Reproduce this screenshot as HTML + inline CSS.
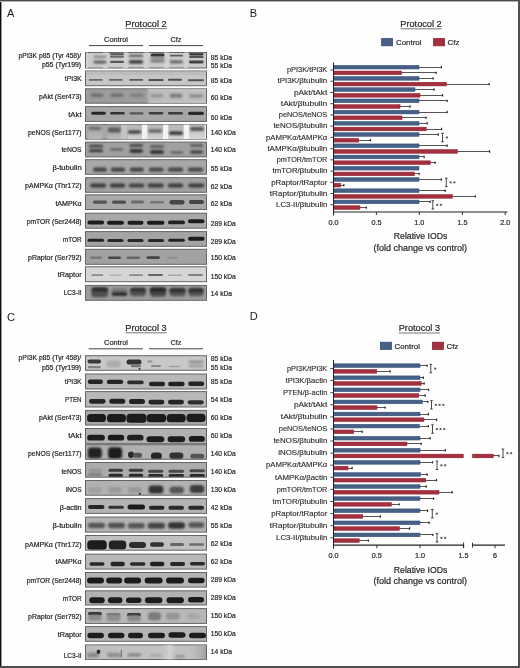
<!DOCTYPE html>
<html><head><meta charset="utf-8"><title>Figure</title>
<style>html,body{margin:0;padding:0;background:#fff;}body{width:520px;height:668px;overflow:hidden;}svg{display:block;will-change:transform;}text{font-family:"Liberation Sans",sans-serif;stroke:#262626;stroke-width:0.2px;}text.l{stroke-width:0.1px;}</style>
</head><body>
<svg width="520" height="668" viewBox="0 0 520 668" font-family="Liberation Sans">
<defs>
<filter id="f0" x="-50%" y="-100%" width="200%" height="300%"><feGaussianBlur stdDeviation="0.3"/></filter>
<filter id="f1" x="-50%" y="-100%" width="200%" height="300%"><feGaussianBlur stdDeviation="0.75"/></filter>
<filter id="f2" x="-50%" y="-100%" width="200%" height="300%"><feGaussianBlur stdDeviation="1.1"/></filter>
<filter id="f3" x="-50%" y="-100%" width="200%" height="300%"><feGaussianBlur stdDeviation="1.5"/></filter>
<filter id="f4" x="-50%" y="-100%" width="200%" height="300%"><feGaussianBlur stdDeviation="2.2"/></filter>
<linearGradient id="lc3g" x1="0" x2="0" y1="0" y2="1"><stop offset="0" stop-color="#959595" stop-opacity="0.7"/><stop offset="0.5" stop-color="#a0a0a0" stop-opacity="0"/><stop offset="1" stop-color="#c0c0c0" stop-opacity="0.8"/></linearGradient>
<linearGradient id="pg1" x1="0" x2="0" y1="0" y2="1"><stop offset="0" stop-color="#a4a4a4"/><stop offset="1" stop-color="#b8b8b8"/></linearGradient>
<linearGradient id="pg2" x1="0" x2="0" y1="0" y2="1"><stop offset="0" stop-color="#b4b4b4"/><stop offset="1" stop-color="#d2d2d2"/></linearGradient>
<linearGradient id="pg3" x1="0" x2="0" y1="0" y2="1"><stop offset="0" stop-color="#bcbcbc"/><stop offset="1" stop-color="#d8d8d8"/></linearGradient>
<linearGradient id="lc3c" x1="0" x2="1" y1="0" y2="0"><stop offset="0" stop-color="#b8b8b8" stop-opacity="0.5"/><stop offset="0.62" stop-color="#c8c8c8" stop-opacity="0"/><stop offset="0.7" stop-color="#d4d4d4" stop-opacity="0.9"/><stop offset="0.76" stop-color="#c8c8c8" stop-opacity="0"/><stop offset="0.9" stop-color="#b0b0b0" stop-opacity="0.3"/><stop offset="1" stop-color="#a0a0a0" stop-opacity="1"/></linearGradient>
<linearGradient id="pakt" x1="0" x2="1" y1="0" y2="0"><stop offset="0" stop-color="#a8a8a8"/><stop offset="0.06" stop-color="#bcbcbc"/><stop offset="1" stop-color="#c2c2c2"/></linearGradient>
</defs>
<rect width="520" height="668" fill="#fefefe"/>
<text x="7.00" y="17.00" font-size="11" text-anchor="start" fill="#1a1a1a" style="stroke:none">A</text>
<text x="146.00" y="26.60" font-size="9.2" text-anchor="middle" fill="#262626" >Protocol 2</text>
<line x1="125.2" y1="28.6" x2="166.8" y2="28.6" stroke="#555" stroke-width="0.8"/>
<text x="116.00" y="41.80" font-size="7.4" text-anchor="middle" fill="#262626" >Control</text>
<text x="176.00" y="41.80" font-size="7.4" text-anchor="middle" fill="#262626" >Cfz</text>
<line x1="89" y1="45.6" x2="143" y2="45.6" stroke="#444" stroke-width="1"/>
<line x1="149" y1="45.6" x2="203" y2="45.6" stroke="#444" stroke-width="1"/>
<text x="81.20" y="58.30" font-size="6.8" text-anchor="end" fill="#262626" class="b" textLength="62.60" lengthAdjust="spacingAndGlyphs">pPI3K p85 (Tyr 458)/</text>
<text x="81.20" y="66.80" font-size="6.8" text-anchor="end" fill="#262626" class="b" textLength="39.30" lengthAdjust="spacingAndGlyphs">p55 (Tyr199)</text>
<text x="210.80" y="60.20" font-size="6.9" text-anchor="start" fill="#262626" class="b" textLength="21.30" lengthAdjust="spacingAndGlyphs">85 kDa</text>
<text x="210.80" y="68.00" font-size="6.9" text-anchor="start" fill="#262626" class="b" textLength="21.30" lengthAdjust="spacingAndGlyphs">55 kDa</text>
<text x="81.60" y="80.80" font-size="6.8" text-anchor="end" fill="#262626" class="b" textLength="16.80" lengthAdjust="spacingAndGlyphs">tPI3K</text>
<text x="210.80" y="82.70" font-size="6.9" text-anchor="start" fill="#262626" class="b" textLength="21.30" lengthAdjust="spacingAndGlyphs">85 kDa</text>
<text x="81.60" y="99.00" font-size="6.8" text-anchor="end" fill="#262626" class="b" textLength="42.60" lengthAdjust="spacingAndGlyphs">pAkt (Ser473)</text>
<text x="210.80" y="100.00" font-size="6.9" text-anchor="start" fill="#262626" class="b" textLength="21.30" lengthAdjust="spacingAndGlyphs">60 kDa</text>
<text x="81.60" y="116.50" font-size="6.8" text-anchor="end" fill="#262626" class="b" textLength="13.40" lengthAdjust="spacingAndGlyphs">tAkt</text>
<text x="210.80" y="119.50" font-size="6.9" text-anchor="start" fill="#262626" class="b" textLength="21.30" lengthAdjust="spacingAndGlyphs">60 kDa</text>
<text x="81.60" y="134.60" font-size="6.8" text-anchor="end" fill="#262626" class="b" textLength="53.50" lengthAdjust="spacingAndGlyphs">peNOS (Ser1177)</text>
<text x="210.80" y="135.00" font-size="6.9" text-anchor="start" fill="#262626" class="b" textLength="24.90" lengthAdjust="spacingAndGlyphs">140 kDa</text>
<text x="81.60" y="151.80" font-size="6.8" text-anchor="end" fill="#262626" class="b" textLength="20.20" lengthAdjust="spacingAndGlyphs">teNOS</text>
<text x="210.80" y="152.10" font-size="6.9" text-anchor="start" fill="#262626" class="b" textLength="24.90" lengthAdjust="spacingAndGlyphs">140 kDa</text>
<text x="81.60" y="170.30" font-size="6.8" text-anchor="end" fill="#262626" class="b" textLength="29.20" lengthAdjust="spacingAndGlyphs">β-tubulin</text>
<text x="210.80" y="171.30" font-size="6.9" text-anchor="start" fill="#262626" class="b" textLength="21.30" lengthAdjust="spacingAndGlyphs">55 kDa</text>
<text x="81.60" y="188.20" font-size="6.8" text-anchor="end" fill="#262626" class="b" textLength="56.50" lengthAdjust="spacingAndGlyphs">pAMPKα (Thr172)</text>
<text x="210.80" y="188.50" font-size="6.9" text-anchor="start" fill="#262626" class="b" textLength="21.30" lengthAdjust="spacingAndGlyphs">62 kDa</text>
<text x="81.60" y="206.00" font-size="6.8" text-anchor="end" fill="#262626" class="b" textLength="26.20" lengthAdjust="spacingAndGlyphs">tAMPKα</text>
<text x="210.80" y="206.30" font-size="6.9" text-anchor="start" fill="#262626" class="b" textLength="21.30" lengthAdjust="spacingAndGlyphs">62 kDa</text>
<text x="81.60" y="224.10" font-size="6.8" text-anchor="end" fill="#262626" class="b" textLength="54.80" lengthAdjust="spacingAndGlyphs">pmTOR (Ser2448)</text>
<text x="210.80" y="225.70" font-size="6.9" text-anchor="start" fill="#262626" class="b" textLength="24.90" lengthAdjust="spacingAndGlyphs">289 kDa</text>
<text x="81.60" y="241.60" font-size="6.8" text-anchor="end" fill="#262626" class="b" textLength="18.80" lengthAdjust="spacingAndGlyphs">mTOR</text>
<text x="210.80" y="243.70" font-size="6.9" text-anchor="start" fill="#262626" class="b" textLength="24.90" lengthAdjust="spacingAndGlyphs">289 kDa</text>
<text x="81.60" y="259.80" font-size="6.8" text-anchor="end" fill="#262626" class="b" textLength="53.50" lengthAdjust="spacingAndGlyphs">pRaptor (Ser792)</text>
<text x="210.80" y="260.30" font-size="6.9" text-anchor="start" fill="#262626" class="b" textLength="24.90" lengthAdjust="spacingAndGlyphs">150 kDa</text>
<text x="81.60" y="277.30" font-size="6.8" text-anchor="end" fill="#262626" class="b" textLength="23.80" lengthAdjust="spacingAndGlyphs">tRaptor</text>
<text x="210.80" y="278.60" font-size="6.9" text-anchor="start" fill="#262626" class="b" textLength="24.90" lengthAdjust="spacingAndGlyphs">150 kDa</text>
<text x="81.60" y="294.80" font-size="6.8" text-anchor="end" fill="#262626" class="b" textLength="17.90" lengthAdjust="spacingAndGlyphs">LC3-II</text>
<text x="210.80" y="295.60" font-size="6.9" text-anchor="start" fill="#262626" class="b" textLength="21.30" lengthAdjust="spacingAndGlyphs">14 kDa</text>
<rect x="85.5" y="52.50" width="121.0" height="15.50" fill="#cbcbcb" stroke="#646464" stroke-width="1"/>
<rect x="86" y="52.5" width="2" height="15.5" fill="#d2d2d2"/><rect x="103" y="52.5" width="5" height="15.5" fill="#d2d2d2"/><rect x="123" y="52.5" width="5" height="15.5" fill="#d0d0d0"/><rect x="144" y="52.5" width="5" height="15.5" fill="#d0d0d0"/><rect x="164" y="52.5" width="5" height="15.5" fill="#d2d2d2"/><rect x="184" y="52.5" width="4" height="15.5" fill="#d0d0d0"/>
<g clip-path="url(#c520)">
<rect x="93.50" y="55.70" width="13.00" height="2.00" rx="1.00" fill="#7a7a7a" filter="url(#f2)"/>
<rect x="93.50" y="60.80" width="13.00" height="2.60" rx="1.30" fill="#555" filter="url(#f2)"/>
<rect x="110.00" y="53.30" width="14.00" height="2.00" rx="1.00" fill="#555" filter="url(#f1)"/>
<rect x="110.00" y="55.70" width="14.00" height="2.00" rx="1.00" fill="#6a6a6a" filter="url(#f1)"/>
<rect x="110.00" y="60.70" width="14.00" height="2.40" rx="1.20" fill="#5a5a5a" filter="url(#f1)"/>
<rect x="129.00" y="54.70" width="14.00" height="2.40" rx="1.20" fill="#555" filter="url(#f2)"/>
<rect x="129.00" y="60.30" width="14.00" height="3.20" rx="1.60" fill="#2e2e2e" filter="url(#f2)"/>
<rect x="150.60" y="53.40" width="14.00" height="3.20" rx="1.60" fill="#333" filter="url(#f1)"/>
<rect x="150.60" y="57.10" width="14.00" height="2.00" rx="1.00" fill="#6a6a6a" filter="url(#f2)"/>
<rect x="150.60" y="59.90" width="14.00" height="2.40" rx="1.20" fill="#666" filter="url(#f2)"/>
<rect x="169.90" y="54.80" width="13.00" height="1.80" rx="0.90" fill="#5a5a5a" filter="url(#f1)"/>
<rect x="169.90" y="60.60" width="13.00" height="2.60" rx="1.30" fill="#5a5a5a" filter="url(#f2)"/>
<rect x="189.05" y="53.20" width="14.50" height="2.20" rx="1.10" fill="#333" filter="url(#f1)"/>
<rect x="189.05" y="56.10" width="14.50" height="2.00" rx="1.00" fill="#555" filter="url(#f1)"/>
<rect x="189.05" y="60.60" width="14.50" height="2.80" rx="1.40" fill="#444" filter="url(#f1)"/>
</g>
<clipPath id="c520"><rect x="86.0" y="53.00" width="120.0" height="14.50"/></clipPath>
<rect x="85.5" y="71.00" width="121.0" height="14.70" fill="#c6c6c6" stroke="#646464" stroke-width="1"/>
<rect x="86" y="71.0" width="120" height="4" fill="#b8b8b8" opacity="0.6"/>
<g clip-path="url(#c705)">
<rect x="88.80" y="79.05" width="14.00" height="1.80" rx="0.90" fill="#6a6a6a" filter="url(#f1)"/>
<rect x="108.80" y="79.05" width="14.00" height="1.80" rx="0.90" fill="#666" filter="url(#f1)"/>
<rect x="129.20" y="79.05" width="14.00" height="1.80" rx="0.90" fill="#5a5a5a" filter="url(#f1)"/>
<rect x="148.50" y="79.05" width="15.00" height="2.00" rx="1.00" fill="#505050" filter="url(#f1)"/>
<rect x="168.00" y="78.85" width="14.00" height="2.00" rx="1.00" fill="#505050" filter="url(#f1)"/>
<rect x="188.00" y="79.15" width="16.00" height="2.00" rx="1.00" fill="#555" filter="url(#f1)"/>
</g>
<clipPath id="c705"><rect x="86.0" y="71.50" width="120.0" height="13.70"/></clipPath>
<rect x="85.5" y="88.80" width="121.0" height="14.40" fill="#9c9c9c" stroke="#646464" stroke-width="1"/>
<rect x="147" y="88.8" width="59" height="14.400000000000006" fill="url(#pakt)"/>
<g clip-path="url(#c883)">
<rect x="90.50" y="93.45" width="13.00" height="3.50" rx="1.75" fill="#6e6e6e" filter="url(#f2)"/>
<rect x="110.50" y="93.45" width="13.00" height="3.50" rx="1.75" fill="#707070" filter="url(#f2)"/>
<rect x="130.50" y="93.70" width="13.00" height="3.00" rx="1.50" fill="#7a7a7a" filter="url(#f2)"/>
<rect x="150.50" y="94.20" width="13.00" height="3.00" rx="1.50" fill="#8e8e8e" filter="url(#f2)"/>
<rect x="169.50" y="93.70" width="13.00" height="4.00" rx="2.00" fill="#7a7a7a" filter="url(#f2)"/>
<rect x="189.00" y="94.25" width="14.00" height="3.50" rx="1.75" fill="#8a8a8a" filter="url(#f2)"/>
</g>
<clipPath id="c883"><rect x="86.0" y="89.30" width="120.0" height="13.40"/></clipPath>
<rect x="85.5" y="106.60" width="121.0" height="14.80" fill="#a6a6a6" stroke="#646464" stroke-width="1"/>
<g clip-path="url(#c1061)">
<rect x="91.25" y="111.85" width="14.50" height="2.80" rx="1.40" fill="#262626" filter="url(#f1)"/>
<rect x="110.25" y="111.95" width="14.50" height="2.60" rx="1.30" fill="#333" filter="url(#f1)"/>
<rect x="129.50" y="112.35" width="14.00" height="2.20" rx="1.10" fill="#555" filter="url(#f1)"/>
<rect x="148.75" y="111.90" width="14.50" height="2.50" rx="1.25" fill="#3a3a3a" filter="url(#f1)"/>
<rect x="168.00" y="111.90" width="15.00" height="2.50" rx="1.25" fill="#3a3a3a" filter="url(#f1)"/>
<rect x="188.00" y="111.75" width="16.00" height="3.20" rx="1.60" fill="#2a2a2a" filter="url(#f1)"/>
</g>
<clipPath id="c1061"><rect x="86.0" y="107.10" width="120.0" height="13.80"/></clipPath>
<rect x="85.5" y="124.60" width="121.0" height="14.60" fill="#a8a8a8" stroke="#646464" stroke-width="1"/>
<rect x="88.4" y="124.6" width="13.8" height="14.599999999999994" fill="url(#pg1)"/><rect x="107.5" y="124.6" width="13.5" height="14.599999999999994" fill="url(#pg1)"/><rect x="127.5" y="124.6" width="14.5" height="14.599999999999994" fill="url(#pg2)"/><rect x="147.5" y="124.6" width="15.5" height="14.599999999999994" fill="url(#pg2)"/><rect x="168.5" y="124.6" width="15" height="14.599999999999994" fill="url(#pg2)"/><rect x="189.5" y="124.6" width="15" height="14.599999999999994" fill="url(#pg3)"/><rect x="121" y="124.6" width="6.5" height="14.599999999999994" fill="#c4c4c4"/><rect x="142" y="124.6" width="5.5" height="14.599999999999994" fill="#f2f2f2"/><rect x="163" y="124.6" width="5.5" height="14.599999999999994" fill="#f4f4f4"/><rect x="183.5" y="124.6" width="6" height="14.599999999999994" fill="#f4f4f4"/><rect x="204.5" y="124.6" width="1.5" height="14.599999999999994" fill="#eeeeee"/>
<g clip-path="url(#c1241)">
<rect x="88.50" y="126.75" width="13.00" height="3.50" rx="1.75" fill="#707070" filter="url(#f2)"/>
<rect x="107.80" y="127.40" width="13.00" height="5.00" rx="2.50" fill="#5a5a5a" filter="url(#f2)"/>
<rect x="127.75" y="130.35" width="13.50" height="3.50" rx="1.75" fill="#444" filter="url(#f2)"/>
<rect x="148.30" y="129.35" width="14.00" height="3.50" rx="1.75" fill="#666" filter="url(#f2)"/>
<rect x="169.00" y="131.20" width="14.00" height="3.80" rx="1.90" fill="#3a3a3a" filter="url(#f2)"/>
<rect x="190.00" y="127.10" width="14.00" height="4.00" rx="2.00" fill="#555" filter="url(#f2)"/>
</g>
<clipPath id="c1241"><rect x="86.0" y="125.10" width="120.0" height="13.60"/></clipPath>
<rect x="85.5" y="142.10" width="121.0" height="14.80" fill="#a0a0a0" stroke="#646464" stroke-width="1"/>
<g clip-path="url(#c1416)">
<rect x="89.00" y="144.85" width="14.00" height="2.60" rx="1.30" fill="#444" filter="url(#f2)"/>
<rect x="89.00" y="149.15" width="14.00" height="3.00" rx="1.50" fill="#3a3a3a" filter="url(#f2)"/>
<rect x="110.00" y="148.55" width="13.00" height="2.00" rx="1.00" fill="#555" filter="url(#f2)"/>
<rect x="129.55" y="144.25" width="13.50" height="2.60" rx="1.30" fill="#3a3a3a" filter="url(#f2)"/>
<rect x="129.55" y="149.25" width="13.50" height="3.60" rx="1.80" fill="#2a2a2a" filter="url(#f2)"/>
<rect x="150.00" y="145.25" width="14.00" height="2.60" rx="1.30" fill="#555" filter="url(#f2)"/>
<rect x="150.00" y="150.35" width="14.00" height="3.40" rx="1.70" fill="#2a2a2a" filter="url(#f2)"/>
<rect x="170.55" y="151.55" width="12.50" height="2.00" rx="1.00" fill="#555" filter="url(#f2)"/>
<rect x="190.00" y="144.25" width="13.00" height="2.60" rx="1.30" fill="#555" filter="url(#f2)"/>
<rect x="190.00" y="150.55" width="13.00" height="3.00" rx="1.50" fill="#3a3a3a" filter="url(#f2)"/>
</g>
<clipPath id="c1416"><rect x="86.0" y="142.60" width="120.0" height="13.80"/></clipPath>
<rect x="85.5" y="159.70" width="121.0" height="14.60" fill="#a8a8a8" stroke="#646464" stroke-width="1"/>
<g clip-path="url(#c1592)">
<rect x="93.00" y="167.40" width="14.00" height="4.40" rx="2.20" fill="#444" filter="url(#f2)"/>
<rect x="110.75" y="167.40" width="14.50" height="4.40" rx="2.20" fill="#444" filter="url(#f2)"/>
<rect x="129.80" y="167.40" width="14.00" height="4.40" rx="2.20" fill="#444" filter="url(#f2)"/>
<rect x="148.70" y="167.40" width="15.00" height="4.40" rx="2.20" fill="#484848" filter="url(#f2)"/>
<rect x="167.75" y="167.40" width="15.50" height="4.40" rx="2.20" fill="#484848" filter="url(#f2)"/>
<rect x="187.75" y="167.40" width="15.50" height="4.40" rx="2.20" fill="#484848" filter="url(#f2)"/>
</g>
<clipPath id="c1592"><rect x="86.0" y="160.20" width="120.0" height="13.60"/></clipPath>
<rect x="85.5" y="177.70" width="121.0" height="14.60" fill="#a0a0a0" stroke="#646464" stroke-width="1"/>
<g clip-path="url(#c1772)">
<rect x="90.20" y="183.55" width="16.00" height="4.00" rx="2.00" fill="#3a3a3a" filter="url(#f2)"/>
<rect x="109.75" y="183.55" width="15.50" height="4.00" rx="2.00" fill="#3a3a3a" filter="url(#f2)"/>
<rect x="128.75" y="183.55" width="15.50" height="4.00" rx="2.00" fill="#404040" filter="url(#f2)"/>
<rect x="147.70" y="183.55" width="16.00" height="4.00" rx="2.00" fill="#3a3a3a" filter="url(#f2)"/>
<rect x="167.75" y="183.55" width="15.50" height="4.00" rx="2.00" fill="#3a3a3a" filter="url(#f2)"/>
<rect x="188.20" y="183.55" width="16.00" height="4.00" rx="2.00" fill="#3a3a3a" filter="url(#f2)"/>
</g>
<clipPath id="c1772"><rect x="86.0" y="178.20" width="120.0" height="13.60"/></clipPath>
<rect x="85.5" y="194.80" width="121.0" height="14.70" fill="#a8a8a8" stroke="#646464" stroke-width="1"/>
<g clip-path="url(#c1943)">
<rect x="93.00" y="200.60" width="14.00" height="3.20" rx="1.60" fill="#555" filter="url(#f1)"/>
<rect x="112.00" y="200.60" width="14.00" height="3.20" rx="1.60" fill="#505050" filter="url(#f1)"/>
<rect x="131.00" y="200.60" width="13.00" height="2.80" rx="1.40" fill="#6a6a6a" filter="url(#f1)"/>
<rect x="150.00" y="201.00" width="14.00" height="2.40" rx="1.20" fill="#777" filter="url(#f1)"/>
<rect x="169.50" y="199.95" width="15.00" height="4.50" rx="2.25" fill="#444" filter="url(#f1)"/>
<rect x="189.00" y="199.90" width="15.00" height="4.00" rx="2.00" fill="#444" filter="url(#f1)"/>
</g>
<clipPath id="c1943"><rect x="86.0" y="195.30" width="120.0" height="13.70"/></clipPath>
<rect x="85.5" y="213.20" width="121.0" height="15.00" fill="#a8a8a8" stroke="#646464" stroke-width="1"/>
<g clip-path="url(#c2127)">
<rect x="87.55" y="220.45" width="16.50" height="4.00" rx="2.00" fill="#1e1e1e" filter="url(#f1)"/>
<rect x="107.00" y="220.65" width="17.00" height="4.00" rx="2.00" fill="#1e1e1e" filter="url(#f1)"/>
<rect x="127.50" y="220.65" width="16.00" height="4.00" rx="2.00" fill="#1e1e1e" filter="url(#f1)"/>
<rect x="146.95" y="220.65" width="17.50" height="4.00" rx="2.00" fill="#1e1e1e" filter="url(#f1)"/>
<rect x="168.00" y="220.55" width="17.00" height="3.80" rx="1.90" fill="#222" filter="url(#f1)"/>
<rect x="187.95" y="219.15" width="16.50" height="4.00" rx="2.00" fill="#1e1e1e" filter="url(#f1)"/>
</g>
<clipPath id="c2127"><rect x="86.0" y="213.70" width="120.0" height="14.00"/></clipPath>
<rect x="85.5" y="231.60" width="121.0" height="14.70" fill="#a4a4a4" stroke="#646464" stroke-width="1"/>
<g clip-path="url(#c2311)">
<rect x="87.55" y="238.80" width="16.50" height="3.00" rx="1.50" fill="#222" filter="url(#f1)"/>
<rect x="107.50" y="239.10" width="16.00" height="3.00" rx="1.50" fill="#262626" filter="url(#f1)"/>
<rect x="127.50" y="239.00" width="16.00" height="3.00" rx="1.50" fill="#262626" filter="url(#f1)"/>
<rect x="148.00" y="239.00" width="16.00" height="3.00" rx="1.50" fill="#262626" filter="url(#f1)"/>
<rect x="168.25" y="238.70" width="16.50" height="3.00" rx="1.50" fill="#222" filter="url(#f1)"/>
<rect x="188.05" y="236.80" width="16.50" height="4.00" rx="2.00" fill="#1e1e1e" filter="url(#f1)"/>
</g>
<clipPath id="c2311"><rect x="86.0" y="232.10" width="120.0" height="13.70"/></clipPath>
<rect x="85.5" y="249.30" width="121.0" height="15.00" fill="#a2a2a2" stroke="#646464" stroke-width="1"/>
<g clip-path="url(#c2488)">
<rect x="90.00" y="256.55" width="12.00" height="2.40" rx="1.20" fill="#777" filter="url(#f1)"/>
<rect x="108.00" y="256.45" width="13.00" height="2.60" rx="1.30" fill="#444" filter="url(#f1)"/>
<rect x="126.55" y="256.55" width="13.50" height="2.40" rx="1.20" fill="#666" filter="url(#f1)"/>
<rect x="146.45" y="256.15" width="13.50" height="2.80" rx="1.40" fill="#444" filter="url(#f1)"/>
<rect x="167.00" y="256.75" width="11.00" height="2.00" rx="1.00" fill="#8e8e8e" filter="url(#f1)"/>
</g>
<clipPath id="c2488"><rect x="86.0" y="249.80" width="120.0" height="14.00"/></clipPath>
<rect x="85.5" y="266.80" width="121.0" height="14.90" fill="#d6d6d6" stroke="#646464" stroke-width="1"/>
<g clip-path="url(#c2663)">
<rect x="91.30" y="274.20" width="12.00" height="1.80" rx="0.90" fill="#8a8a8a" filter="url(#f1)"/>
<rect x="109.00" y="274.50" width="13.00" height="1.60" rx="0.80" fill="#b0b0b0" filter="url(#f1)"/>
<rect x="129.00" y="274.20" width="14.00" height="1.80" rx="0.90" fill="#8a8a8a" filter="url(#f1)"/>
<rect x="148.00" y="273.90" width="15.00" height="2.00" rx="1.00" fill="#666" filter="url(#f1)"/>
<rect x="168.00" y="274.50" width="14.00" height="1.60" rx="0.80" fill="#a6a6a6" filter="url(#f1)"/>
<rect x="188.00" y="273.90" width="15.00" height="2.00" rx="1.00" fill="#808080" filter="url(#f1)"/>
</g>
<clipPath id="c2663"><rect x="86.0" y="267.30" width="120.0" height="13.90"/></clipPath>
<rect x="85.5" y="285.40" width="121.0" height="14.90" fill="#9c9c9c" stroke="#646464" stroke-width="1"/>
<g clip-path="url(#c2849)">
<rect x="91.20" y="287.80" width="17.00" height="9.50" rx="3.50" fill="#505050" filter="url(#f2)"/>
<rect x="91.70" y="287.85" width="16.00" height="3.40" rx="1.70" fill="#2a2a2a" filter="url(#f2)"/>
<rect x="111.50" y="288.05" width="16.00" height="5.00" rx="2.50" fill="#7a7a7a" filter="url(#f2)"/>
<rect x="111.50" y="291.95" width="16.00" height="4.00" rx="2.00" fill="#2e2e2e" filter="url(#f2)"/>
<rect x="130.00" y="287.80" width="16.00" height="8.50" rx="3.50" fill="#555" filter="url(#f2)"/>
<rect x="130.50" y="288.45" width="15.00" height="3.40" rx="1.70" fill="#2e2e2e" filter="url(#f2)"/>
<rect x="150.00" y="287.30" width="16.00" height="9.50" rx="3.50" fill="#4a4a4a" filter="url(#f2)"/>
<rect x="150.00" y="288.05" width="16.00" height="3.80" rx="1.90" fill="#262626" filter="url(#f2)"/>
<rect x="169.50" y="287.80" width="16.00" height="8.50" rx="3.50" fill="#555" filter="url(#f2)"/>
<rect x="169.50" y="288.85" width="16.00" height="3.40" rx="1.70" fill="#2e2e2e" filter="url(#f2)"/>
<rect x="188.50" y="287.80" width="15.00" height="8.50" rx="3.50" fill="#555" filter="url(#f2)"/>
<rect x="188.50" y="288.85" width="15.00" height="3.40" rx="1.70" fill="#2e2e2e" filter="url(#f2)"/>
</g>
<clipPath id="c2849"><rect x="86.0" y="285.90" width="120.0" height="13.90"/></clipPath>
<text x="7.00" y="320.50" font-size="11" text-anchor="start" fill="#1a1a1a" style="stroke:none">C</text>
<text x="146.00" y="330.80" font-size="9.2" text-anchor="middle" fill="#262626" >Protocol 3</text>
<line x1="125.5" y1="332.8" x2="166.8" y2="332.8" stroke="#555" stroke-width="0.8"/>
<text x="116.00" y="345.00" font-size="7.4" text-anchor="middle" fill="#262626" >Control</text>
<text x="176.00" y="345.00" font-size="7.4" text-anchor="middle" fill="#262626" >Cfz</text>
<line x1="88.6" y1="348.8" x2="143" y2="348.8" stroke="#444" stroke-width="1"/>
<line x1="149" y1="348.8" x2="203" y2="348.8" stroke="#444" stroke-width="1"/>
<text x="81.20" y="360.10" font-size="6.8" text-anchor="end" fill="#262626" class="b" textLength="62.60" lengthAdjust="spacingAndGlyphs">pPI3K p85 (Tyr 458)/</text>
<text x="81.20" y="369.50" font-size="6.8" text-anchor="end" fill="#262626" class="b" textLength="39.30" lengthAdjust="spacingAndGlyphs">p55 (Tyr199)</text>
<text x="210.80" y="360.60" font-size="6.9" text-anchor="start" fill="#262626" class="b" textLength="21.30" lengthAdjust="spacingAndGlyphs">85 kDa</text>
<text x="210.80" y="369.70" font-size="6.9" text-anchor="start" fill="#262626" class="b" textLength="21.30" lengthAdjust="spacingAndGlyphs">55 kDa</text>
<text x="81.60" y="383.60" font-size="6.8" text-anchor="end" fill="#262626" class="b" textLength="16.80" lengthAdjust="spacingAndGlyphs">tPI3K</text>
<text x="210.80" y="384.10" font-size="6.9" text-anchor="start" fill="#262626" class="b" textLength="21.30" lengthAdjust="spacingAndGlyphs">85 kDa</text>
<text x="81.60" y="401.80" font-size="6.8" text-anchor="end" fill="#262626" class="b" textLength="16.60" lengthAdjust="spacingAndGlyphs">PTEN</text>
<text x="210.80" y="401.70" font-size="6.9" text-anchor="start" fill="#262626" class="b" textLength="21.30" lengthAdjust="spacingAndGlyphs">54 kDa</text>
<text x="81.60" y="420.00" font-size="6.8" text-anchor="end" fill="#262626" class="b" textLength="42.60" lengthAdjust="spacingAndGlyphs">pAkt (Ser473)</text>
<text x="210.80" y="419.70" font-size="6.9" text-anchor="start" fill="#262626" class="b" textLength="21.30" lengthAdjust="spacingAndGlyphs">60 kDa</text>
<text x="81.60" y="438.20" font-size="6.8" text-anchor="end" fill="#262626" class="b" textLength="13.40" lengthAdjust="spacingAndGlyphs">tAkt</text>
<text x="210.80" y="438.20" font-size="6.9" text-anchor="start" fill="#262626" class="b" textLength="21.30" lengthAdjust="spacingAndGlyphs">60 kDa</text>
<text x="81.60" y="456.20" font-size="6.8" text-anchor="end" fill="#262626" class="b" textLength="53.50" lengthAdjust="spacingAndGlyphs">peNOS (Ser1177)</text>
<text x="210.80" y="456.30" font-size="6.9" text-anchor="start" fill="#262626" class="b" textLength="24.90" lengthAdjust="spacingAndGlyphs">140 kDa</text>
<text x="81.60" y="473.70" font-size="6.8" text-anchor="end" fill="#262626" class="b" textLength="20.20" lengthAdjust="spacingAndGlyphs">teNOS</text>
<text x="210.80" y="474.10" font-size="6.9" text-anchor="start" fill="#262626" class="b" textLength="24.90" lengthAdjust="spacingAndGlyphs">140 kDa</text>
<text x="81.60" y="491.90" font-size="6.8" text-anchor="end" fill="#262626" class="b" textLength="15.70" lengthAdjust="spacingAndGlyphs">iNOS</text>
<text x="210.80" y="491.70" font-size="6.9" text-anchor="start" fill="#262626" class="b" textLength="24.90" lengthAdjust="spacingAndGlyphs">130 kDa</text>
<text x="81.60" y="510.10" font-size="6.8" text-anchor="end" fill="#262626" class="b" textLength="21.90" lengthAdjust="spacingAndGlyphs">β-actin</text>
<text x="210.80" y="509.80" font-size="6.9" text-anchor="start" fill="#262626" class="b" textLength="21.30" lengthAdjust="spacingAndGlyphs">42 kDa</text>
<text x="81.60" y="528.40" font-size="6.8" text-anchor="end" fill="#262626" class="b" textLength="29.20" lengthAdjust="spacingAndGlyphs">β-tubulin</text>
<text x="210.80" y="528.00" font-size="6.9" text-anchor="start" fill="#262626" class="b" textLength="21.30" lengthAdjust="spacingAndGlyphs">55 kDa</text>
<text x="81.60" y="546.50" font-size="6.8" text-anchor="end" fill="#262626" class="b" textLength="56.50" lengthAdjust="spacingAndGlyphs">pAMPKα (Thr172)</text>
<text x="210.80" y="546.00" font-size="6.9" text-anchor="start" fill="#262626" class="b" textLength="21.30" lengthAdjust="spacingAndGlyphs">62 kDa</text>
<text x="81.60" y="564.30" font-size="6.8" text-anchor="end" fill="#262626" class="b" textLength="26.20" lengthAdjust="spacingAndGlyphs">tAMPKα</text>
<text x="210.80" y="563.90" font-size="6.9" text-anchor="start" fill="#262626" class="b" textLength="21.30" lengthAdjust="spacingAndGlyphs">62 kDa</text>
<text x="81.60" y="582.70" font-size="6.8" text-anchor="end" fill="#262626" class="b" textLength="54.80" lengthAdjust="spacingAndGlyphs">pmTOR (Ser2448)</text>
<text x="210.80" y="582.10" font-size="6.9" text-anchor="start" fill="#262626" class="b" textLength="24.90" lengthAdjust="spacingAndGlyphs">289 kDa</text>
<text x="81.60" y="600.60" font-size="6.8" text-anchor="end" fill="#262626" class="b" textLength="18.80" lengthAdjust="spacingAndGlyphs">mTOR</text>
<text x="210.80" y="600.00" font-size="6.9" text-anchor="start" fill="#262626" class="b" textLength="24.90" lengthAdjust="spacingAndGlyphs">289 kDa</text>
<text x="81.60" y="618.60" font-size="6.8" text-anchor="end" fill="#262626" class="b" textLength="53.50" lengthAdjust="spacingAndGlyphs">pRaptor (Ser792)</text>
<text x="210.80" y="618.30" font-size="6.9" text-anchor="start" fill="#262626" class="b" textLength="24.90" lengthAdjust="spacingAndGlyphs">150 kDa</text>
<text x="81.60" y="636.60" font-size="6.8" text-anchor="end" fill="#262626" class="b" textLength="23.80" lengthAdjust="spacingAndGlyphs">tRaptor</text>
<text x="210.80" y="636.10" font-size="6.9" text-anchor="start" fill="#262626" class="b" textLength="24.90" lengthAdjust="spacingAndGlyphs">150 kDa</text>
<text x="81.60" y="658.00" font-size="6.8" text-anchor="end" fill="#262626" class="b" textLength="17.90" lengthAdjust="spacingAndGlyphs">LC3-II</text>
<text x="210.80" y="653.80" font-size="6.9" text-anchor="start" fill="#262626" class="b" textLength="21.30" lengthAdjust="spacingAndGlyphs">14 kDa</text>
<rect x="85.5" y="355.70" width="121.0" height="14.60" fill="#c8c8c8" stroke="#646464" stroke-width="1"/>
<g clip-path="url(#c3552)">
<rect x="87.55" y="359.40" width="13.50" height="4.20" rx="2.10" fill="#3a3a3a" filter="url(#f1)"/>
<rect x="87.80" y="366.00" width="13.00" height="2.20" rx="1.10" fill="#808080" filter="url(#f1)"/>
<rect x="106.45" y="360.50" width="14.50" height="7.00" rx="3.50" fill="#acacac" filter="url(#f2)"/>
<rect x="126.50" y="359.50" width="15.00" height="5.00" rx="2.50" fill="#333" filter="url(#f1)"/>
<rect x="131.00" y="364.75" width="10.00" height="2.50" rx="1.25" fill="#777" filter="url(#f1)"/>
<rect x="138.50" y="368.00" width="2.00" height="2.00" rx="1.00" fill="#222" filter="url(#f0)"/>
<rect x="147.50" y="360.50" width="5.00" height="2.00" rx="1.00" fill="#909090" filter="url(#f1)"/>
<rect x="151.00" y="365.00" width="10.00" height="2.00" rx="1.00" fill="#8a8a8a" filter="url(#f1)"/>
<rect x="168.50" y="365.70" width="12.00" height="1.60" rx="0.80" fill="#a0a0a0" filter="url(#f1)"/>
<rect x="188.50" y="360.50" width="15.00" height="3.00" rx="1.50" fill="#909090" filter="url(#f2)"/>
<rect x="188.50" y="364.50" width="15.00" height="3.00" rx="1.50" fill="#a0a0a0" filter="url(#f2)"/>
</g>
<clipPath id="c3552"><rect x="86.0" y="356.20" width="120.0" height="13.60"/></clipPath>
<rect x="85.5" y="374.00" width="121.0" height="15.00" fill="#b8b8b8" stroke="#646464" stroke-width="1"/>
<g clip-path="url(#c3735)">
<rect x="87.80" y="379.56" width="15.20" height="4.40" rx="2.20" fill="#262626" filter="url(#f1)"/>
<rect x="106.75" y="379.86" width="16.50" height="4.20" rx="2.10" fill="#262626" filter="url(#f1)"/>
<rect x="127.15" y="380.46" width="16.50" height="3.80" rx="1.90" fill="#2e2e2e" filter="url(#f1)"/>
<rect x="149.00" y="381.76" width="16.00" height="4.40" rx="2.20" fill="#222" filter="url(#f1)"/>
<rect x="168.15" y="381.76" width="16.50" height="4.40" rx="2.20" fill="#222" filter="url(#f1)"/>
<rect x="188.20" y="381.56" width="16.00" height="4.40" rx="2.20" fill="#262626" filter="url(#f1)"/>
</g>
<clipPath id="c3735"><rect x="86.0" y="374.50" width="120.0" height="14.00"/></clipPath>
<rect x="85.5" y="391.60" width="121.0" height="15.40" fill="#b8b8b8" stroke="#646464" stroke-width="1"/>
<g clip-path="url(#c3911)">
<rect x="89.00" y="398.92" width="16.60" height="4.80" rx="2.40" fill="#262626" filter="url(#f1)"/>
<rect x="109.30" y="398.82" width="16.00" height="5.00" rx="2.50" fill="#222" filter="url(#f1)"/>
<rect x="129.00" y="399.02" width="16.00" height="5.00" rx="2.50" fill="#222" filter="url(#f1)"/>
<rect x="148.40" y="399.72" width="16.00" height="4.80" rx="2.40" fill="#262626" filter="url(#f1)"/>
<rect x="168.00" y="399.72" width="16.00" height="4.80" rx="2.40" fill="#262626" filter="url(#f1)"/>
<rect x="187.70" y="400.22" width="16.00" height="4.20" rx="2.10" fill="#2e2e2e" filter="url(#f1)"/>
</g>
<clipPath id="c3911"><rect x="86.0" y="392.10" width="120.0" height="14.40"/></clipPath>
<rect x="85.5" y="410.40" width="121.0" height="14.70" fill="#a6a6a6" stroke="#646464" stroke-width="1"/>
<g clip-path="url(#c4099)">
<rect x="87.00" y="413.88" width="19.00" height="8.20" rx="3.50" fill="#1e1e1e" filter="url(#f1)"/>
<rect x="107.00" y="414.08" width="19.00" height="8.20" rx="3.50" fill="#1e1e1e" filter="url(#f1)"/>
<rect x="126.50" y="413.78" width="20.00" height="9.00" rx="3.50" fill="#1a1a1a" filter="url(#f1)"/>
<rect x="146.65" y="414.08" width="19.50" height="8.20" rx="3.50" fill="#1e1e1e" filter="url(#f1)"/>
<rect x="166.70" y="414.08" width="19.00" height="8.20" rx="3.50" fill="#1e1e1e" filter="url(#f1)"/>
<rect x="186.50" y="413.78" width="19.00" height="8.20" rx="3.50" fill="#1e1e1e" filter="url(#f1)"/>
</g>
<clipPath id="c4099"><rect x="86.0" y="410.90" width="120.0" height="13.70"/></clipPath>
<rect x="85.5" y="428.50" width="121.0" height="15.20" fill="#b0b0b0" stroke="#646464" stroke-width="1"/>
<g clip-path="url(#c4280)">
<rect x="87.15" y="434.79" width="17.70" height="5.70" rx="2.85" fill="#1e1e1e" filter="url(#f1)"/>
<rect x="107.75" y="434.79" width="16.50" height="5.70" rx="2.85" fill="#1e1e1e" filter="url(#f1)"/>
<rect x="127.05" y="434.79" width="16.50" height="5.70" rx="2.85" fill="#222" filter="url(#f1)"/>
<rect x="146.50" y="436.14" width="17.80" height="6.00" rx="3.00" fill="#1e1e1e" filter="url(#f1)"/>
<rect x="167.65" y="436.14" width="17.50" height="6.00" rx="3.00" fill="#1e1e1e" filter="url(#f1)"/>
<rect x="188.80" y="436.09" width="16.00" height="5.70" rx="2.85" fill="#1e1e1e" filter="url(#f1)"/>
</g>
<clipPath id="c4280"><rect x="86.0" y="429.00" width="120.0" height="14.20"/></clipPath>
<rect x="85.5" y="444.70" width="121.0" height="14.60" fill="#b0b0b0" stroke="#646464" stroke-width="1"/>
<g clip-path="url(#c4442)">
<rect x="87.80" y="447.50" width="14.00" height="11.00" rx="3.50" fill="#222" filter="url(#f2)"/>
<rect x="108.10" y="447.25" width="14.00" height="11.50" rx="3.50" fill="#1e1e1e" filter="url(#f2)"/>
<rect x="128.00" y="451.55" width="6.00" height="6.50" rx="3.00" fill="#2a2a2a" filter="url(#f1)"/>
<rect x="133.00" y="452.70" width="9.00" height="5.00" rx="2.50" fill="#555" filter="url(#f1)"/>
<rect x="150.90" y="452.50" width="11.00" height="7.00" rx="3.50" fill="#262626" filter="url(#f1)"/>
<rect x="169.40" y="452.55" width="14.00" height="6.50" rx="3.25" fill="#333" filter="url(#f1)"/>
<rect x="190.30" y="453.80" width="14.00" height="5.00" rx="2.50" fill="#555" filter="url(#f1)"/>
</g>
<clipPath id="c4442"><rect x="86.0" y="445.20" width="120.0" height="13.60"/></clipPath>
<rect x="85.5" y="462.50" width="121.0" height="14.70" fill="#acacac" stroke="#646464" stroke-width="1"/>
<g clip-path="url(#c4620)">
<rect x="88.00" y="469.26" width="14.00" height="2.20" rx="1.10" fill="#8a8a8a" filter="url(#f2)"/>
<rect x="88.00" y="473.36" width="14.00" height="2.60" rx="1.30" fill="#777" filter="url(#f2)"/>
<rect x="108.45" y="468.76" width="14.50" height="3.00" rx="1.50" fill="#3a3a3a" filter="url(#f1)"/>
<rect x="108.45" y="473.66" width="14.50" height="3.60" rx="1.80" fill="#2a2a2a" filter="url(#f1)"/>
<rect x="128.75" y="468.76" width="14.50" height="3.00" rx="1.50" fill="#3a3a3a" filter="url(#f1)"/>
<rect x="128.75" y="473.66" width="14.50" height="3.60" rx="1.80" fill="#2a2a2a" filter="url(#f1)"/>
<rect x="148.20" y="469.86" width="15.00" height="3.00" rx="1.50" fill="#444" filter="url(#f1)"/>
<rect x="148.20" y="474.06" width="15.00" height="3.60" rx="1.80" fill="#2a2a2a" filter="url(#f1)"/>
<rect x="168.55" y="469.86" width="15.50" height="3.00" rx="1.50" fill="#4a4a4a" filter="url(#f1)"/>
<rect x="168.55" y="474.06" width="15.50" height="3.60" rx="1.80" fill="#2a2a2a" filter="url(#f1)"/>
<rect x="189.45" y="469.36" width="15.50" height="3.00" rx="1.50" fill="#4a4a4a" filter="url(#f1)"/>
<rect x="189.45" y="474.06" width="15.50" height="3.60" rx="1.80" fill="#2a2a2a" filter="url(#f1)"/>
</g>
<clipPath id="c4620"><rect x="86.0" y="463.00" width="120.0" height="13.70"/></clipPath>
<rect x="85.5" y="480.50" width="121.0" height="14.70" fill="#b2b2b2" stroke="#646464" stroke-width="1"/>
<g clip-path="url(#c4800)">
<rect x="88.00" y="486.92" width="14.00" height="6.00" rx="3.00" fill="#a0a0a0" filter="url(#f2)"/>
<rect x="108.00" y="486.92" width="14.00" height="6.00" rx="3.00" fill="#9a9a9a" filter="url(#f2)"/>
<rect x="128.00" y="486.92" width="14.00" height="6.00" rx="3.00" fill="#999" filter="url(#f2)"/>
<rect x="138.90" y="492.67" width="1.80" height="2.50" rx="0.90" fill="#222" filter="url(#f0)"/>
<rect x="148.50" y="485.42" width="15.00" height="8.00" rx="3.50" fill="#333" filter="url(#f2)"/>
<rect x="169.40" y="486.42" width="14.60" height="7.00" rx="3.50" fill="#555" filter="url(#f2)"/>
<rect x="189.70" y="484.92" width="14.60" height="8.00" rx="3.50" fill="#3a3a3a" filter="url(#f2)"/>
</g>
<clipPath id="c4800"><rect x="86.0" y="481.00" width="120.0" height="13.70"/></clipPath>
<rect x="85.5" y="498.60" width="121.0" height="14.80" fill="#b4b4b4" stroke="#646464" stroke-width="1"/>
<g clip-path="url(#c4981)">
<rect x="87.95" y="505.08" width="16.50" height="4.00" rx="2.00" fill="#262626" filter="url(#f1)"/>
<rect x="108.40" y="505.68" width="15.60" height="3.00" rx="1.50" fill="#333" filter="url(#f1)"/>
<rect x="127.55" y="504.58" width="17.50" height="5.00" rx="2.50" fill="#1e1e1e" filter="url(#f1)"/>
<rect x="148.95" y="505.78" width="15.50" height="4.00" rx="2.00" fill="#262626" filter="url(#f1)"/>
<rect x="168.40" y="505.78" width="15.60" height="4.00" rx="2.00" fill="#2a2a2a" filter="url(#f1)"/>
<rect x="188.20" y="505.78" width="15.80" height="4.00" rx="2.00" fill="#2a2a2a" filter="url(#f1)"/>
</g>
<clipPath id="c4981"><rect x="86.0" y="499.10" width="120.0" height="13.80"/></clipPath>
<rect x="85.5" y="517.10" width="121.0" height="15.00" fill="#b4b4b4" stroke="#646464" stroke-width="1"/>
<g clip-path="url(#c5166)">
<rect x="88.00" y="522.69" width="17.00" height="5.50" rx="2.75" fill="#555" filter="url(#f2)"/>
<rect x="108.00" y="522.69" width="17.00" height="5.50" rx="2.75" fill="#505050" filter="url(#f2)"/>
<rect x="127.80" y="522.89" width="17.00" height="5.50" rx="2.75" fill="#555" filter="url(#f2)"/>
<rect x="147.65" y="522.64" width="17.50" height="6.00" rx="3.00" fill="#444" filter="url(#f2)"/>
<rect x="168.00" y="522.19" width="17.00" height="6.50" rx="3.25" fill="#333" filter="url(#f2)"/>
<rect x="188.40" y="522.29" width="16.00" height="5.50" rx="2.75" fill="#555" filter="url(#f2)"/>
</g>
<clipPath id="c5166"><rect x="86.0" y="517.60" width="120.0" height="14.00"/></clipPath>
<rect x="85.5" y="535.50" width="121.0" height="14.70" fill="#c0c0c0" stroke="#646464" stroke-width="1"/>
<g clip-path="url(#c5350)">
<rect x="87.25" y="540.35" width="19.50" height="9.50" rx="3.50" fill="#1e1e1e" filter="url(#f1)"/>
<rect x="108.75" y="540.60" width="17.50" height="9.00" rx="3.50" fill="#222" filter="url(#f1)"/>
<rect x="129.00" y="542.10" width="17.00" height="6.00" rx="3.00" fill="#2e2e2e" filter="url(#f1)"/>
<rect x="150.00" y="542.25" width="14.00" height="4.50" rx="2.25" fill="#333" filter="url(#f1)"/>
<rect x="170.00" y="543.00" width="14.00" height="3.00" rx="1.50" fill="#666" filter="url(#f1)"/>
<rect x="189.00" y="543.20" width="15.00" height="2.60" rx="1.30" fill="#6e6e6e" filter="url(#f1)"/>
</g>
<clipPath id="c5350"><rect x="86.0" y="536.00" width="120.0" height="13.70"/></clipPath>
<rect x="85.5" y="554.10" width="121.0" height="15.00" fill="#b8b8b8" stroke="#646464" stroke-width="1"/>
<g clip-path="url(#c5536)">
<rect x="89.50" y="562.21" width="15.00" height="3.50" rx="1.75" fill="#262626" filter="url(#f1)"/>
<rect x="110.45" y="561.71" width="14.50" height="4.50" rx="2.25" fill="#262626" filter="url(#f1)"/>
<rect x="129.95" y="562.21" width="15.50" height="3.50" rx="1.75" fill="#2a2a2a" filter="url(#f1)"/>
<rect x="149.95" y="561.71" width="14.50" height="4.50" rx="2.25" fill="#222" filter="url(#f1)"/>
<rect x="170.00" y="561.96" width="15.00" height="4.00" rx="2.00" fill="#262626" filter="url(#f1)"/>
<rect x="190.00" y="561.91" width="15.00" height="3.50" rx="1.75" fill="#2a2a2a" filter="url(#f1)"/>
</g>
<clipPath id="c5536"><rect x="86.0" y="554.60" width="120.0" height="14.00"/></clipPath>
<rect x="85.5" y="572.50" width="121.0" height="14.60" fill="#b4b4b4" stroke="#646464" stroke-width="1"/>
<g clip-path="url(#c5720)">
<rect x="87.00" y="577.62" width="17.00" height="6.00" rx="3.00" fill="#1e1e1e" filter="url(#f1)"/>
<rect x="106.20" y="577.62" width="16.00" height="6.00" rx="3.00" fill="#1e1e1e" filter="url(#f1)"/>
<rect x="124.10" y="577.62" width="17.00" height="6.00" rx="3.00" fill="#1e1e1e" filter="url(#f1)"/>
<rect x="144.60" y="577.62" width="18.00" height="6.00" rx="3.00" fill="#1e1e1e" filter="url(#f1)"/>
<rect x="166.00" y="577.62" width="18.00" height="6.00" rx="3.00" fill="#1e1e1e" filter="url(#f1)"/>
<rect x="188.00" y="577.67" width="16.60" height="5.50" rx="2.75" fill="#1e1e1e" filter="url(#f1)"/>
</g>
<clipPath id="c5720"><rect x="86.0" y="573.00" width="120.0" height="13.60"/></clipPath>
<rect x="85.5" y="590.80" width="121.0" height="14.20" fill="#b2b2b2" stroke="#646464" stroke-width="1"/>
<g clip-path="url(#c5903)">
<rect x="89.25" y="597.18" width="15.50" height="6.00" rx="3.00" fill="#1e1e1e" filter="url(#f1)"/>
<rect x="107.95" y="597.18" width="14.50" height="6.00" rx="3.00" fill="#1e1e1e" filter="url(#f1)"/>
<rect x="125.95" y="597.43" width="15.50" height="5.50" rx="2.75" fill="#1e1e1e" filter="url(#f1)"/>
<rect x="144.95" y="597.18" width="17.50" height="6.00" rx="3.00" fill="#1e1e1e" filter="url(#f1)"/>
<rect x="166.45" y="597.18" width="17.50" height="6.00" rx="3.00" fill="#1e1e1e" filter="url(#f1)"/>
<rect x="188.00" y="597.03" width="16.00" height="5.50" rx="2.75" fill="#1e1e1e" filter="url(#f1)"/>
</g>
<clipPath id="c5903"><rect x="86.0" y="591.30" width="120.0" height="13.20"/></clipPath>
<rect x="85.5" y="608.60" width="121.0" height="14.80" fill="#b8b8b8" stroke="#646464" stroke-width="1"/>
<g clip-path="url(#c6081)">
<rect x="88.00" y="611.89" width="14.00" height="3.50" rx="1.75" fill="#333" filter="url(#f1)"/>
<rect x="88.00" y="614.84" width="14.00" height="6.00" rx="3.00" fill="#8a8a8a" filter="url(#f2)"/>
<rect x="106.50" y="613.34" width="14.00" height="8.00" rx="3.50" fill="#8e8e8e" filter="url(#f2)"/>
<rect x="106.50" y="613.34" width="14.00" height="2.00" rx="1.00" fill="#777" filter="url(#f1)"/>
<rect x="127.00" y="613.09" width="14.00" height="3.50" rx="1.75" fill="#333" filter="url(#f1)"/>
<rect x="127.00" y="615.34" width="14.00" height="6.00" rx="3.00" fill="#8a8a8a" filter="url(#f2)"/>
<rect x="148.00" y="612.34" width="13.00" height="8.00" rx="3.50" fill="#7a7a7a" filter="url(#f2)"/>
<rect x="166.00" y="612.84" width="14.00" height="7.00" rx="3.50" fill="#959595" filter="url(#f2)"/>
<rect x="187.00" y="613.34" width="13.00" height="6.00" rx="3.00" fill="#a8a8a8" filter="url(#f2)"/>
</g>
<clipPath id="c6081"><rect x="86.0" y="609.10" width="120.0" height="13.80"/></clipPath>
<rect x="85.5" y="626.60" width="121.0" height="14.70" fill="#b4b4b4" stroke="#646464" stroke-width="1"/>
<g clip-path="url(#c6261)">
<rect x="87.45" y="632.65" width="16.50" height="5.50" rx="2.75" fill="#1e1e1e" filter="url(#f1)"/>
<rect x="107.95" y="632.65" width="16.50" height="5.50" rx="2.75" fill="#1e1e1e" filter="url(#f1)"/>
<rect x="128.00" y="632.65" width="15.00" height="5.50" rx="2.75" fill="#1e1e1e" filter="url(#f1)"/>
<rect x="148.00" y="632.65" width="17.00" height="5.50" rx="2.75" fill="#1e1e1e" filter="url(#f1)"/>
<rect x="168.50" y="632.15" width="17.00" height="5.50" rx="2.75" fill="#1e1e1e" filter="url(#f1)"/>
<rect x="189.00" y="632.65" width="17.00" height="5.50" rx="2.75" fill="#1e1e1e" filter="url(#f1)"/>
</g>
<clipPath id="c6261"><rect x="86.0" y="627.10" width="120.0" height="13.70"/></clipPath>
<rect x="85.5" y="644.90" width="121.0" height="14.60" fill="#c2c2c2" stroke="#646464" stroke-width="1"/>
<rect x="86" y="644.9" width="120" height="14.600000000000023" fill="url(#lc3c)"/>
<g clip-path="url(#c6444)">
<rect x="87.00" y="652.46" width="12.00" height="5.00" rx="2.50" fill="#8a8a8a" filter="url(#f2)"/>
<rect x="96.75" y="649.41" width="3.50" height="4.50" rx="1.75" fill="#2e2e2e" filter="url(#f1)"/>
<rect x="107.00" y="652.71" width="14.00" height="4.50" rx="2.25" fill="#8e8e8e" filter="url(#f2)"/>
<rect x="120.80" y="649.46" width="1.00" height="8.00" rx="0.50" fill="#666" filter="url(#f0)"/>
<rect x="127.50" y="653.21" width="14.00" height="3.50" rx="1.75" fill="#8a8a8a" filter="url(#f2)"/>
<rect x="150.00" y="653.96" width="12.00" height="3.00" rx="1.50" fill="#a8a8a8" filter="url(#f2)"/>
<rect x="175.00" y="654.96" width="10.00" height="3.00" rx="1.50" fill="#999" filter="url(#f2)"/>
</g>
<clipPath id="c6444"><rect x="86.0" y="645.40" width="120.0" height="13.60"/></clipPath>
<text x="249.80" y="17.10" font-size="11" text-anchor="start" fill="#1a1a1a" style="stroke:none">B</text>
<text x="421.00" y="26.80" font-size="9.2" text-anchor="middle" fill="#262626" >Protocol 2</text>
<line x1="400.5" y1="28.8" x2="441.6" y2="28.8" stroke="#555" stroke-width="0.8"/>
<rect x="381.6" y="38.6" width="11" height="7.2" fill="#466086" stroke="#34507a" stroke-width="0.8"/>
<text x="396.00" y="44.90" font-size="7.9" text-anchor="start" fill="#262626" >Control</text>
<rect x="433.6" y="38.6" width="11" height="7.2" fill="#a3303f" stroke="#901d2d" stroke-width="0.8"/>
<text x="447.50" y="44.90" font-size="7.9" text-anchor="start" fill="#262626" >Cfz</text>
<text x="327.30" y="72.20" font-size="7.0" text-anchor="end" fill="#262626" class="l" textLength="40.40" lengthAdjust="spacingAndGlyphs">pPI3K/tPI3K</text>
<line x1="330.3" y1="70.00" x2="333.5" y2="70.00" stroke="#333" stroke-width="0.9"/>
<line x1="419.00" y1="67.50" x2="441.80" y2="67.50" stroke="#555" stroke-width="1"/>
<line x1="441.40" y1="65.95" x2="441.40" y2="68.35" stroke="#222" stroke-width="1.1"/>
<line x1="401.70" y1="72.50" x2="436.50" y2="72.50" stroke="#555" stroke-width="1"/>
<line x1="436.10" y1="71.65" x2="436.10" y2="74.05" stroke="#222" stroke-width="1.1"/>
<rect x="334.0" y="65.30" width="85.00" height="3.7" fill="#466086" stroke="#34507a" stroke-width="0.5"/>
<rect x="334.0" y="71.00" width="67.70" height="3.7" fill="#a3303f" stroke="#901d2d" stroke-width="0.5"/>
<text x="327.30" y="83.43" font-size="7.0" text-anchor="end" fill="#262626" class="l" textLength="49.80" lengthAdjust="spacingAndGlyphs">tPI3K/βtubulin</text>
<line x1="330.3" y1="81.23" x2="333.5" y2="81.23" stroke="#333" stroke-width="0.9"/>
<line x1="419.00" y1="78.50" x2="433.50" y2="78.50" stroke="#555" stroke-width="1"/>
<line x1="433.10" y1="77.18" x2="433.10" y2="79.58" stroke="#222" stroke-width="1.1"/>
<line x1="446.50" y1="84.50" x2="489.50" y2="84.50" stroke="#555" stroke-width="1"/>
<line x1="489.10" y1="82.88" x2="489.10" y2="85.28" stroke="#222" stroke-width="1.1"/>
<rect x="334.0" y="76.53" width="85.00" height="3.7" fill="#466086" stroke="#34507a" stroke-width="0.5"/>
<rect x="334.0" y="82.23" width="112.50" height="3.7" fill="#a3303f" stroke="#901d2d" stroke-width="0.5"/>
<text x="327.30" y="94.66" font-size="7.0" text-anchor="end" fill="#262626" class="l" textLength="33.40" lengthAdjust="spacingAndGlyphs">pAkt/tAkt</text>
<line x1="330.3" y1="92.46" x2="333.5" y2="92.46" stroke="#333" stroke-width="0.9"/>
<line x1="415.00" y1="89.50" x2="434.50" y2="89.50" stroke="#555" stroke-width="1"/>
<line x1="434.10" y1="88.41" x2="434.10" y2="90.81" stroke="#222" stroke-width="1.1"/>
<line x1="420.00" y1="95.50" x2="443.00" y2="95.50" stroke="#555" stroke-width="1"/>
<line x1="442.60" y1="94.11" x2="442.60" y2="96.51" stroke="#222" stroke-width="1.1"/>
<rect x="334.0" y="87.76" width="81.00" height="3.7" fill="#466086" stroke="#34507a" stroke-width="0.5"/>
<rect x="334.0" y="93.46" width="86.00" height="3.7" fill="#a3303f" stroke="#901d2d" stroke-width="0.5"/>
<text x="327.30" y="105.89" font-size="7.0" text-anchor="end" fill="#262626" class="l" textLength="46.50" lengthAdjust="spacingAndGlyphs">tAkt/βtubulin</text>
<line x1="330.3" y1="103.69" x2="333.5" y2="103.69" stroke="#333" stroke-width="0.9"/>
<line x1="419.00" y1="100.50" x2="447.50" y2="100.50" stroke="#555" stroke-width="1"/>
<line x1="447.10" y1="99.64" x2="447.10" y2="102.04" stroke="#222" stroke-width="1.1"/>
<line x1="400.00" y1="106.50" x2="410.50" y2="106.50" stroke="#555" stroke-width="1"/>
<line x1="410.10" y1="105.34" x2="410.10" y2="107.74" stroke="#222" stroke-width="1.1"/>
<rect x="334.0" y="98.99" width="85.00" height="3.7" fill="#466086" stroke="#34507a" stroke-width="0.5"/>
<rect x="334.0" y="104.69" width="66.00" height="3.7" fill="#a3303f" stroke="#901d2d" stroke-width="0.5"/>
<text x="327.30" y="117.12" font-size="7.0" text-anchor="end" fill="#262626" class="l" textLength="48.50" lengthAdjust="spacingAndGlyphs">peNOS/teNOS</text>
<line x1="330.3" y1="114.92" x2="333.5" y2="114.92" stroke="#333" stroke-width="0.9"/>
<line x1="419.00" y1="112.50" x2="447.50" y2="112.50" stroke="#555" stroke-width="1"/>
<line x1="447.10" y1="110.87" x2="447.10" y2="113.27" stroke="#222" stroke-width="1.1"/>
<line x1="402.00" y1="117.50" x2="426.50" y2="117.50" stroke="#555" stroke-width="1"/>
<line x1="426.10" y1="116.57" x2="426.10" y2="118.97" stroke="#222" stroke-width="1.1"/>
<rect x="334.0" y="110.22" width="85.00" height="3.7" fill="#466086" stroke="#34507a" stroke-width="0.5"/>
<rect x="334.0" y="115.92" width="68.00" height="3.7" fill="#a3303f" stroke="#901d2d" stroke-width="0.5"/>
<text x="327.30" y="128.35" font-size="7.0" text-anchor="end" fill="#262626" class="l" textLength="53.90" lengthAdjust="spacingAndGlyphs">teNOS/βtubulin</text>
<line x1="330.3" y1="126.15" x2="333.5" y2="126.15" stroke="#333" stroke-width="0.9"/>
<line x1="419.00" y1="123.50" x2="427.50" y2="123.50" stroke="#555" stroke-width="1"/>
<line x1="427.10" y1="122.10" x2="427.10" y2="124.50" stroke="#222" stroke-width="1.1"/>
<line x1="426.25" y1="129.50" x2="442.00" y2="129.50" stroke="#555" stroke-width="1"/>
<line x1="441.60" y1="127.80" x2="441.60" y2="130.20" stroke="#222" stroke-width="1.1"/>
<rect x="334.0" y="121.45" width="85.00" height="3.7" fill="#466086" stroke="#34507a" stroke-width="0.5"/>
<rect x="334.0" y="127.15" width="92.25" height="3.7" fill="#a3303f" stroke="#901d2d" stroke-width="0.5"/>
<text x="327.30" y="139.58" font-size="7.0" text-anchor="end" fill="#262626" class="l" textLength="61.30" lengthAdjust="spacingAndGlyphs">pAMPKα/tAMPKα</text>
<line x1="330.3" y1="137.38" x2="333.5" y2="137.38" stroke="#333" stroke-width="0.9"/>
<line x1="419.00" y1="134.50" x2="438.70" y2="134.50" stroke="#555" stroke-width="1"/>
<line x1="438.30" y1="133.33" x2="438.30" y2="135.73" stroke="#222" stroke-width="1.1"/>
<line x1="358.75" y1="140.50" x2="370.75" y2="140.50" stroke="#555" stroke-width="1"/>
<line x1="370.35" y1="139.03" x2="370.35" y2="141.43" stroke="#222" stroke-width="1.1"/>
<rect x="334.0" y="132.68" width="85.00" height="3.7" fill="#466086" stroke="#34507a" stroke-width="0.5"/>
<rect x="334.0" y="138.38" width="24.75" height="3.7" fill="#a3303f" stroke="#901d2d" stroke-width="0.5"/>
<path d="M441.20 133.28H443.80M442.50 133.28V141.68M441.20 141.68H443.80" stroke="#333" stroke-width="0.9" fill="none"/>
<path d="M445.70 137.48H448.10M446.30 136.43L447.50 138.53M447.50 136.43L446.30 138.53" stroke="#444" stroke-width="0.7"/>
<text x="327.30" y="150.81" font-size="7.0" text-anchor="end" fill="#262626" class="l" textLength="59.90" lengthAdjust="spacingAndGlyphs">tAMPKα/βtubulin</text>
<line x1="330.3" y1="148.61" x2="333.5" y2="148.61" stroke="#333" stroke-width="0.9"/>
<line x1="419.00" y1="145.50" x2="447.50" y2="145.50" stroke="#555" stroke-width="1"/>
<line x1="447.10" y1="144.56" x2="447.10" y2="146.96" stroke="#222" stroke-width="1.1"/>
<line x1="457.50" y1="151.50" x2="490.00" y2="151.50" stroke="#555" stroke-width="1"/>
<line x1="489.60" y1="150.26" x2="489.60" y2="152.66" stroke="#222" stroke-width="1.1"/>
<rect x="334.0" y="143.91" width="85.00" height="3.7" fill="#466086" stroke="#34507a" stroke-width="0.5"/>
<rect x="334.0" y="149.61" width="123.50" height="3.7" fill="#a3303f" stroke="#901d2d" stroke-width="0.5"/>
<text x="327.30" y="162.04" font-size="7.0" text-anchor="end" fill="#262626" class="l" textLength="50.50" lengthAdjust="spacingAndGlyphs">pmTOR/tmTOR</text>
<line x1="330.3" y1="159.84" x2="333.5" y2="159.84" stroke="#333" stroke-width="0.9"/>
<line x1="419.00" y1="156.50" x2="424.50" y2="156.50" stroke="#555" stroke-width="1"/>
<line x1="424.10" y1="155.79" x2="424.10" y2="158.19" stroke="#222" stroke-width="1.1"/>
<line x1="430.50" y1="162.50" x2="435.50" y2="162.50" stroke="#555" stroke-width="1"/>
<line x1="435.10" y1="161.49" x2="435.10" y2="163.89" stroke="#222" stroke-width="1.1"/>
<rect x="334.0" y="155.14" width="85.00" height="3.7" fill="#466086" stroke="#34507a" stroke-width="0.5"/>
<rect x="334.0" y="160.84" width="96.50" height="3.7" fill="#a3303f" stroke="#901d2d" stroke-width="0.5"/>
<text x="327.30" y="173.27" font-size="7.0" text-anchor="end" fill="#262626" class="l" textLength="54.80" lengthAdjust="spacingAndGlyphs">tmTOR/βtubulin</text>
<line x1="330.3" y1="171.07" x2="333.5" y2="171.07" stroke="#333" stroke-width="0.9"/>
<line x1="414.50" y1="173.50" x2="419.50" y2="173.50" stroke="#555" stroke-width="1"/>
<line x1="419.10" y1="172.72" x2="419.10" y2="175.12" stroke="#222" stroke-width="1.1"/>
<rect x="334.0" y="166.37" width="85.00" height="3.7" fill="#466086" stroke="#34507a" stroke-width="0.5"/>
<rect x="334.0" y="172.07" width="80.50" height="3.7" fill="#a3303f" stroke="#901d2d" stroke-width="0.5"/>
<text x="327.30" y="184.50" font-size="7.0" text-anchor="end" fill="#262626" class="l" textLength="56.10" lengthAdjust="spacingAndGlyphs">pRaptor/tRaptor</text>
<line x1="330.3" y1="182.30" x2="333.5" y2="182.30" stroke="#333" stroke-width="0.9"/>
<line x1="419.00" y1="179.50" x2="441.75" y2="179.50" stroke="#555" stroke-width="1"/>
<line x1="441.35" y1="178.25" x2="441.35" y2="180.65" stroke="#222" stroke-width="1.1"/>
<line x1="340.75" y1="185.50" x2="344.25" y2="185.50" stroke="#555" stroke-width="1"/>
<line x1="343.85" y1="183.95" x2="343.85" y2="186.35" stroke="#222" stroke-width="1.1"/>
<rect x="334.0" y="177.60" width="85.00" height="3.7" fill="#466086" stroke="#34507a" stroke-width="0.5"/>
<rect x="334.0" y="183.30" width="6.75" height="3.7" fill="#a3303f" stroke="#901d2d" stroke-width="0.5"/>
<path d="M445.00 178.20H447.60M446.30 178.20V186.60M445.00 186.60H447.60" stroke="#333" stroke-width="0.9" fill="none"/>
<path d="M449.50 182.40H451.90M450.10 181.35L451.30 183.45M451.30 181.35L450.10 183.45" stroke="#444" stroke-width="0.7"/>
<path d="M453.20 182.40H455.60M453.80 181.35L455.00 183.45M455.00 181.35L453.80 183.45" stroke="#444" stroke-width="0.7"/>
<text x="327.30" y="195.73" font-size="7.0" text-anchor="end" fill="#262626" class="l" textLength="57.50" lengthAdjust="spacingAndGlyphs">tRaptor/βtubulin</text>
<line x1="330.3" y1="193.53" x2="333.5" y2="193.53" stroke="#333" stroke-width="0.9"/>
<line x1="419.00" y1="190.50" x2="445.50" y2="190.50" stroke="#555" stroke-width="1"/>
<line x1="445.10" y1="189.48" x2="445.10" y2="191.88" stroke="#222" stroke-width="1.1"/>
<line x1="452.50" y1="196.50" x2="475.75" y2="196.50" stroke="#555" stroke-width="1"/>
<line x1="475.35" y1="195.18" x2="475.35" y2="197.58" stroke="#222" stroke-width="1.1"/>
<rect x="334.0" y="188.83" width="85.00" height="3.7" fill="#466086" stroke="#34507a" stroke-width="0.5"/>
<rect x="334.0" y="194.53" width="118.50" height="3.7" fill="#a3303f" stroke="#901d2d" stroke-width="0.5"/>
<text x="327.30" y="206.96" font-size="7.0" text-anchor="end" fill="#262626" class="l" textLength="51.20" lengthAdjust="spacingAndGlyphs">LC3-II/βtubulin</text>
<line x1="330.3" y1="204.76" x2="333.5" y2="204.76" stroke="#333" stroke-width="0.9"/>
<line x1="419.00" y1="201.50" x2="430.50" y2="201.50" stroke="#555" stroke-width="1"/>
<line x1="430.10" y1="200.71" x2="430.10" y2="203.11" stroke="#222" stroke-width="1.1"/>
<line x1="360.00" y1="207.50" x2="366.75" y2="207.50" stroke="#555" stroke-width="1"/>
<line x1="366.35" y1="206.41" x2="366.35" y2="208.81" stroke="#222" stroke-width="1.1"/>
<rect x="334.0" y="200.06" width="85.00" height="3.7" fill="#466086" stroke="#34507a" stroke-width="0.5"/>
<rect x="334.0" y="205.76" width="26.00" height="3.7" fill="#a3303f" stroke="#901d2d" stroke-width="0.5"/>
<path d="M431.50 200.66H434.10M432.80 200.66V209.06M431.50 209.06H434.10" stroke="#333" stroke-width="0.9" fill="none"/>
<path d="M436.00 204.86H438.40M436.60 203.81L437.80 205.91M437.80 203.81L436.60 205.91" stroke="#444" stroke-width="0.7"/>
<path d="M439.70 204.86H442.10M440.30 203.81L441.50 205.91M441.50 203.81L440.30 205.91" stroke="#444" stroke-width="0.7"/>
<line x1="333.5" y1="62.4" x2="333.5" y2="215.4" stroke="#222" stroke-width="1"/>
<line x1="333" y1="212.0" x2="507.5" y2="212.0" stroke="#222" stroke-width="1.2"/>
<line x1="333.5" y1="211.9" x2="333.5" y2="215" stroke="#222" stroke-width="0.9"/>
<text x="333.50" y="224.90" font-size="7.2" text-anchor="middle" fill="#262626" >0.0</text>
<line x1="376.4" y1="211.9" x2="376.4" y2="215" stroke="#222" stroke-width="0.9"/>
<text x="376.40" y="224.90" font-size="7.2" text-anchor="middle" fill="#262626" >0.5</text>
<line x1="419.3" y1="211.9" x2="419.3" y2="215" stroke="#222" stroke-width="0.9"/>
<text x="419.30" y="224.90" font-size="7.2" text-anchor="middle" fill="#262626" >1.0</text>
<line x1="462.4" y1="211.9" x2="462.4" y2="215" stroke="#222" stroke-width="0.9"/>
<text x="462.40" y="224.90" font-size="7.2" text-anchor="middle" fill="#262626" >1.5</text>
<line x1="505.2" y1="211.9" x2="505.2" y2="215" stroke="#222" stroke-width="0.9"/>
<text x="505.20" y="224.90" font-size="7.2" text-anchor="middle" fill="#262626" >2.0</text>
<text x="420.60" y="239.30" font-size="8.7" text-anchor="middle" fill="#262626" >Relative IODs</text>
<text x="420.30" y="250.90" font-size="9.0" text-anchor="middle" fill="#262626" >(fold change vs control)</text>
<text x="249.80" y="320.20" font-size="11" text-anchor="start" fill="#1a1a1a" style="stroke:none">D</text>
<text x="419.40" y="331.00" font-size="9.2" text-anchor="middle" fill="#262626" >Protocol 3</text>
<line x1="398.8" y1="333" x2="440" y2="333" stroke="#555" stroke-width="0.8"/>
<rect x="380.4" y="342.2" width="11" height="7.2" fill="#466086" stroke="#34507a" stroke-width="0.8"/>
<text x="394.50" y="348.60" font-size="7.9" text-anchor="start" fill="#262626" >Control</text>
<rect x="432.4" y="342.2" width="11" height="7.2" fill="#a3303f" stroke="#901d2d" stroke-width="0.8"/>
<text x="446.50" y="348.60" font-size="7.9" text-anchor="start" fill="#262626" >Cfz</text>
<text x="327.30" y="370.70" font-size="7.0" text-anchor="end" fill="#262626" class="l" textLength="40.40" lengthAdjust="spacingAndGlyphs">pPI3K/tPI3K</text>
<line x1="330.3" y1="368.50" x2="333.5" y2="368.50" stroke="#333" stroke-width="0.9"/>
<line x1="420.00" y1="365.50" x2="427.50" y2="365.50" stroke="#555" stroke-width="1"/>
<line x1="427.10" y1="364.45" x2="427.10" y2="366.85" stroke="#222" stroke-width="1.1"/>
<line x1="376.75" y1="371.50" x2="390.50" y2="371.50" stroke="#555" stroke-width="1"/>
<line x1="390.10" y1="370.15" x2="390.10" y2="372.55" stroke="#222" stroke-width="1.1"/>
<rect x="334.0" y="363.80" width="86.00" height="3.7" fill="#466086" stroke="#34507a" stroke-width="0.5"/>
<rect x="334.0" y="369.50" width="42.75" height="3.7" fill="#a3303f" stroke="#901d2d" stroke-width="0.5"/>
<path d="M429.50 364.40H432.10M430.80 364.40V372.80M429.50 372.80H432.10" stroke="#333" stroke-width="0.9" fill="none"/>
<path d="M434.00 368.60H436.40M434.60 367.55L435.80 369.65M435.80 367.55L434.60 369.65" stroke="#444" stroke-width="0.7"/>
<text x="327.30" y="382.79" font-size="7.0" text-anchor="end" fill="#262626" class="l" textLength="41.70" lengthAdjust="spacingAndGlyphs">tPI3K/βactin</text>
<line x1="330.3" y1="380.59" x2="333.5" y2="380.59" stroke="#333" stroke-width="0.9"/>
<line x1="420.00" y1="377.50" x2="423.75" y2="377.50" stroke="#555" stroke-width="1"/>
<line x1="423.35" y1="376.54" x2="423.35" y2="378.94" stroke="#222" stroke-width="1.1"/>
<line x1="421.25" y1="383.50" x2="424.50" y2="383.50" stroke="#555" stroke-width="1"/>
<line x1="424.10" y1="382.24" x2="424.10" y2="384.64" stroke="#222" stroke-width="1.1"/>
<rect x="334.0" y="375.89" width="86.00" height="3.7" fill="#466086" stroke="#34507a" stroke-width="0.5"/>
<rect x="334.0" y="381.59" width="87.25" height="3.7" fill="#a3303f" stroke="#901d2d" stroke-width="0.5"/>
<text x="327.30" y="394.88" font-size="7.0" text-anchor="end" fill="#262626" class="l" textLength="44.40" lengthAdjust="spacingAndGlyphs">PTEN/β-actin</text>
<line x1="330.3" y1="392.68" x2="333.5" y2="392.68" stroke="#333" stroke-width="0.9"/>
<line x1="420.00" y1="389.50" x2="429.00" y2="389.50" stroke="#555" stroke-width="1"/>
<line x1="428.60" y1="388.63" x2="428.60" y2="391.03" stroke="#222" stroke-width="1.1"/>
<line x1="418.75" y1="395.50" x2="425.50" y2="395.50" stroke="#555" stroke-width="1"/>
<line x1="425.10" y1="394.33" x2="425.10" y2="396.73" stroke="#222" stroke-width="1.1"/>
<rect x="334.0" y="387.98" width="86.00" height="3.7" fill="#466086" stroke="#34507a" stroke-width="0.5"/>
<rect x="334.0" y="393.68" width="84.75" height="3.7" fill="#a3303f" stroke="#901d2d" stroke-width="0.5"/>
<text x="327.30" y="406.97" font-size="7.0" text-anchor="end" fill="#262626" class="l" textLength="33.40" lengthAdjust="spacingAndGlyphs">pAkt/tAkt</text>
<line x1="330.3" y1="404.77" x2="333.5" y2="404.77" stroke="#333" stroke-width="0.9"/>
<line x1="422.50" y1="401.50" x2="428.25" y2="401.50" stroke="#555" stroke-width="1"/>
<line x1="427.85" y1="400.72" x2="427.85" y2="403.12" stroke="#222" stroke-width="1.1"/>
<line x1="377.00" y1="407.50" x2="385.50" y2="407.50" stroke="#555" stroke-width="1"/>
<line x1="385.10" y1="406.42" x2="385.10" y2="408.82" stroke="#222" stroke-width="1.1"/>
<rect x="334.0" y="400.07" width="88.50" height="3.7" fill="#466086" stroke="#34507a" stroke-width="0.5"/>
<rect x="334.0" y="405.77" width="43.00" height="3.7" fill="#a3303f" stroke="#901d2d" stroke-width="0.5"/>
<path d="M430.20 400.67H432.80M431.50 400.67V409.07M430.20 409.07H432.80" stroke="#333" stroke-width="0.9" fill="none"/>
<path d="M434.70 404.87H437.10M435.30 403.82L436.50 405.92M436.50 403.82L435.30 405.92" stroke="#444" stroke-width="0.7"/>
<path d="M438.40 404.87H440.80M439.00 403.82L440.20 405.92M440.20 403.82L439.00 405.92" stroke="#444" stroke-width="0.7"/>
<path d="M442.10 404.87H444.50M442.70 403.82L443.90 405.92M443.90 403.82L442.70 405.92" stroke="#444" stroke-width="0.7"/>
<text x="327.30" y="419.06" font-size="7.0" text-anchor="end" fill="#262626" class="l" textLength="46.50" lengthAdjust="spacingAndGlyphs">tAkt/βtubulin</text>
<line x1="330.3" y1="416.86" x2="333.5" y2="416.86" stroke="#333" stroke-width="0.9"/>
<line x1="420.00" y1="414.50" x2="428.75" y2="414.50" stroke="#555" stroke-width="1"/>
<line x1="428.35" y1="412.81" x2="428.35" y2="415.21" stroke="#222" stroke-width="1.1"/>
<line x1="424.00" y1="419.50" x2="437.00" y2="419.50" stroke="#555" stroke-width="1"/>
<line x1="436.60" y1="418.51" x2="436.60" y2="420.91" stroke="#222" stroke-width="1.1"/>
<rect x="334.0" y="412.16" width="86.00" height="3.7" fill="#466086" stroke="#34507a" stroke-width="0.5"/>
<rect x="334.0" y="417.86" width="90.00" height="3.7" fill="#a3303f" stroke="#901d2d" stroke-width="0.5"/>
<text x="327.30" y="431.15" font-size="7.0" text-anchor="end" fill="#262626" class="l" textLength="48.50" lengthAdjust="spacingAndGlyphs">peNOS/teNOS</text>
<line x1="330.3" y1="428.95" x2="333.5" y2="428.95" stroke="#333" stroke-width="0.9"/>
<line x1="419.50" y1="426.50" x2="428.75" y2="426.50" stroke="#555" stroke-width="1"/>
<line x1="428.35" y1="424.90" x2="428.35" y2="427.30" stroke="#222" stroke-width="1.1"/>
<line x1="353.75" y1="431.50" x2="362.50" y2="431.50" stroke="#555" stroke-width="1"/>
<line x1="362.10" y1="430.60" x2="362.10" y2="433.00" stroke="#222" stroke-width="1.1"/>
<rect x="334.0" y="424.25" width="85.50" height="3.7" fill="#466086" stroke="#34507a" stroke-width="0.5"/>
<rect x="334.0" y="429.95" width="19.75" height="3.7" fill="#a3303f" stroke="#901d2d" stroke-width="0.5"/>
<path d="M431.20 424.85H433.80M432.50 424.85V433.25M431.20 433.25H433.80" stroke="#333" stroke-width="0.9" fill="none"/>
<path d="M435.70 429.05H438.10M436.30 428.00L437.50 430.10M437.50 428.00L436.30 430.10" stroke="#444" stroke-width="0.7"/>
<path d="M439.40 429.05H441.80M440.00 428.00L441.20 430.10M441.20 428.00L440.00 430.10" stroke="#444" stroke-width="0.7"/>
<path d="M443.10 429.05H445.50M443.70 428.00L444.90 430.10M444.90 428.00L443.70 430.10" stroke="#444" stroke-width="0.7"/>
<text x="327.30" y="443.24" font-size="7.0" text-anchor="end" fill="#262626" class="l" textLength="53.90" lengthAdjust="spacingAndGlyphs">teNOS/βtubulin</text>
<line x1="330.3" y1="441.04" x2="333.5" y2="441.04" stroke="#333" stroke-width="0.9"/>
<line x1="420.00" y1="438.50" x2="430.50" y2="438.50" stroke="#555" stroke-width="1"/>
<line x1="430.10" y1="436.99" x2="430.10" y2="439.39" stroke="#222" stroke-width="1.1"/>
<line x1="407.00" y1="443.50" x2="421.50" y2="443.50" stroke="#555" stroke-width="1"/>
<line x1="421.10" y1="442.69" x2="421.10" y2="445.09" stroke="#222" stroke-width="1.1"/>
<rect x="334.0" y="436.34" width="86.00" height="3.7" fill="#466086" stroke="#34507a" stroke-width="0.5"/>
<rect x="334.0" y="442.04" width="73.00" height="3.7" fill="#a3303f" stroke="#901d2d" stroke-width="0.5"/>
<text x="327.30" y="455.33" font-size="7.0" text-anchor="end" fill="#262626" class="l" textLength="49.10" lengthAdjust="spacingAndGlyphs">iNOS/βtubulin</text>
<line x1="330.3" y1="453.13" x2="333.5" y2="453.13" stroke="#333" stroke-width="0.9"/>
<line x1="420.00" y1="450.50" x2="445.75" y2="450.50" stroke="#555" stroke-width="1"/>
<line x1="445.35" y1="449.08" x2="445.35" y2="451.48" stroke="#222" stroke-width="1.1"/>
<line x1="493.25" y1="455.50" x2="499.25" y2="455.50" stroke="#555" stroke-width="1"/>
<line x1="498.85" y1="454.78" x2="498.85" y2="457.18" stroke="#222" stroke-width="1.1"/>
<rect x="334.0" y="448.43" width="86.00" height="3.7" fill="#466086" stroke="#34507a" stroke-width="0.5"/>
<rect x="334.0" y="454.13" width="129.25" height="3.7" fill="#a3303f" stroke="#901d2d" stroke-width="0.5"/>
<rect x="472.50" y="454.13" width="20.75" height="3.7" fill="#a3303f" stroke="#901d2d" stroke-width="0.5"/>
<path d="M501.70 449.03H504.30M503.00 449.03V457.43M501.70 457.43H504.30" stroke="#333" stroke-width="0.9" fill="none"/>
<path d="M506.20 453.23H508.60M506.80 452.18L508.00 454.28M508.00 452.18L506.80 454.28" stroke="#444" stroke-width="0.7"/>
<path d="M509.90 453.23H512.30M510.50 452.18L511.70 454.28M511.70 452.18L510.50 454.28" stroke="#444" stroke-width="0.7"/>
<text x="327.30" y="467.42" font-size="7.0" text-anchor="end" fill="#262626" class="l" textLength="61.30" lengthAdjust="spacingAndGlyphs">pAMPKα/tAMPKα</text>
<line x1="330.3" y1="465.22" x2="333.5" y2="465.22" stroke="#333" stroke-width="0.9"/>
<line x1="420.00" y1="462.50" x2="433.00" y2="462.50" stroke="#555" stroke-width="1"/>
<line x1="432.60" y1="461.17" x2="432.60" y2="463.57" stroke="#222" stroke-width="1.1"/>
<line x1="348.00" y1="468.50" x2="352.50" y2="468.50" stroke="#555" stroke-width="1"/>
<line x1="352.10" y1="466.87" x2="352.10" y2="469.27" stroke="#222" stroke-width="1.1"/>
<rect x="334.0" y="460.52" width="86.00" height="3.7" fill="#466086" stroke="#34507a" stroke-width="0.5"/>
<rect x="334.0" y="466.22" width="14.00" height="3.7" fill="#a3303f" stroke="#901d2d" stroke-width="0.5"/>
<path d="M435.70 461.12H438.30M437.00 461.12V469.52M435.70 469.52H438.30" stroke="#333" stroke-width="0.9" fill="none"/>
<path d="M440.20 465.32H442.60M440.80 464.27L442.00 466.37M442.00 464.27L440.80 466.37" stroke="#444" stroke-width="0.7"/>
<path d="M443.90 465.32H446.30M444.50 464.27L445.70 466.37M445.70 464.27L444.50 466.37" stroke="#444" stroke-width="0.7"/>
<text x="327.30" y="479.51" font-size="7.0" text-anchor="end" fill="#262626" class="l" textLength="52.20" lengthAdjust="spacingAndGlyphs">tAMPKα/βactin</text>
<line x1="330.3" y1="477.31" x2="333.5" y2="477.31" stroke="#333" stroke-width="0.9"/>
<line x1="420.50" y1="474.50" x2="427.50" y2="474.50" stroke="#555" stroke-width="1"/>
<line x1="427.10" y1="473.26" x2="427.10" y2="475.66" stroke="#222" stroke-width="1.1"/>
<line x1="425.75" y1="480.50" x2="437.00" y2="480.50" stroke="#555" stroke-width="1"/>
<line x1="436.60" y1="478.96" x2="436.60" y2="481.36" stroke="#222" stroke-width="1.1"/>
<rect x="334.0" y="472.61" width="86.50" height="3.7" fill="#466086" stroke="#34507a" stroke-width="0.5"/>
<rect x="334.0" y="478.31" width="91.75" height="3.7" fill="#a3303f" stroke="#901d2d" stroke-width="0.5"/>
<text x="327.30" y="491.60" font-size="7.0" text-anchor="end" fill="#262626" class="l" textLength="50.50" lengthAdjust="spacingAndGlyphs">pmTOR/tmTOR</text>
<line x1="330.3" y1="489.40" x2="333.5" y2="489.40" stroke="#333" stroke-width="0.9"/>
<line x1="420.00" y1="486.50" x2="426.50" y2="486.50" stroke="#555" stroke-width="1"/>
<line x1="426.10" y1="485.35" x2="426.10" y2="487.75" stroke="#222" stroke-width="1.1"/>
<line x1="439.00" y1="492.50" x2="452.50" y2="492.50" stroke="#555" stroke-width="1"/>
<line x1="452.10" y1="491.05" x2="452.10" y2="493.45" stroke="#222" stroke-width="1.1"/>
<rect x="334.0" y="484.70" width="86.00" height="3.7" fill="#466086" stroke="#34507a" stroke-width="0.5"/>
<rect x="334.0" y="490.40" width="105.00" height="3.7" fill="#a3303f" stroke="#901d2d" stroke-width="0.5"/>
<text x="327.30" y="503.69" font-size="7.0" text-anchor="end" fill="#262626" class="l" textLength="54.80" lengthAdjust="spacingAndGlyphs">tmTOR/βtubulin</text>
<line x1="330.3" y1="501.49" x2="333.5" y2="501.49" stroke="#333" stroke-width="0.9"/>
<line x1="420.00" y1="498.50" x2="434.00" y2="498.50" stroke="#555" stroke-width="1"/>
<line x1="433.60" y1="497.44" x2="433.60" y2="499.84" stroke="#222" stroke-width="1.1"/>
<line x1="391.50" y1="504.50" x2="399.50" y2="504.50" stroke="#555" stroke-width="1"/>
<line x1="399.10" y1="503.14" x2="399.10" y2="505.54" stroke="#222" stroke-width="1.1"/>
<rect x="334.0" y="496.79" width="86.00" height="3.7" fill="#466086" stroke="#34507a" stroke-width="0.5"/>
<rect x="334.0" y="502.49" width="57.50" height="3.7" fill="#a3303f" stroke="#901d2d" stroke-width="0.5"/>
<text x="327.30" y="515.78" font-size="7.0" text-anchor="end" fill="#262626" class="l" textLength="56.10" lengthAdjust="spacingAndGlyphs">pRaptor/tRaptor</text>
<line x1="330.3" y1="513.58" x2="333.5" y2="513.58" stroke="#333" stroke-width="0.9"/>
<line x1="420.00" y1="510.50" x2="428.00" y2="510.50" stroke="#555" stroke-width="1"/>
<line x1="427.60" y1="509.53" x2="427.60" y2="511.93" stroke="#222" stroke-width="1.1"/>
<line x1="362.75" y1="516.50" x2="380.75" y2="516.50" stroke="#555" stroke-width="1"/>
<line x1="380.35" y1="515.23" x2="380.35" y2="517.63" stroke="#222" stroke-width="1.1"/>
<rect x="334.0" y="508.88" width="86.00" height="3.7" fill="#466086" stroke="#34507a" stroke-width="0.5"/>
<rect x="334.0" y="514.58" width="28.75" height="3.7" fill="#a3303f" stroke="#901d2d" stroke-width="0.5"/>
<path d="M431.00 509.48H433.60M432.30 509.48V517.88M431.00 517.88H433.60" stroke="#333" stroke-width="0.9" fill="none"/>
<path d="M435.50 513.68H437.90M436.10 512.63L437.30 514.73M437.30 512.63L436.10 514.73" stroke="#444" stroke-width="0.7"/>
<text x="327.30" y="527.87" font-size="7.0" text-anchor="end" fill="#262626" class="l" textLength="57.50" lengthAdjust="spacingAndGlyphs">tRaptor/βtubulin</text>
<line x1="330.3" y1="525.67" x2="333.5" y2="525.67" stroke="#333" stroke-width="0.9"/>
<line x1="420.00" y1="522.50" x2="429.50" y2="522.50" stroke="#555" stroke-width="1"/>
<line x1="429.10" y1="521.62" x2="429.10" y2="524.02" stroke="#222" stroke-width="1.1"/>
<line x1="399.50" y1="528.50" x2="410.00" y2="528.50" stroke="#555" stroke-width="1"/>
<line x1="409.60" y1="527.32" x2="409.60" y2="529.72" stroke="#222" stroke-width="1.1"/>
<rect x="334.0" y="520.97" width="86.00" height="3.7" fill="#466086" stroke="#34507a" stroke-width="0.5"/>
<rect x="334.0" y="526.67" width="65.50" height="3.7" fill="#a3303f" stroke="#901d2d" stroke-width="0.5"/>
<text x="327.30" y="539.96" font-size="7.0" text-anchor="end" fill="#262626" class="l" textLength="51.20" lengthAdjust="spacingAndGlyphs">LC3-II/βtubulin</text>
<line x1="330.3" y1="537.76" x2="333.5" y2="537.76" stroke="#333" stroke-width="0.9"/>
<line x1="420.00" y1="534.50" x2="433.25" y2="534.50" stroke="#555" stroke-width="1"/>
<line x1="432.85" y1="533.71" x2="432.85" y2="536.11" stroke="#222" stroke-width="1.1"/>
<line x1="359.25" y1="540.50" x2="368.75" y2="540.50" stroke="#555" stroke-width="1"/>
<line x1="368.35" y1="539.41" x2="368.35" y2="541.81" stroke="#222" stroke-width="1.1"/>
<rect x="334.0" y="533.06" width="86.00" height="3.7" fill="#466086" stroke="#34507a" stroke-width="0.5"/>
<rect x="334.0" y="538.76" width="25.25" height="3.7" fill="#a3303f" stroke="#901d2d" stroke-width="0.5"/>
<path d="M435.70 533.66H438.30M437.00 533.66V542.06M435.70 542.06H438.30" stroke="#333" stroke-width="0.9" fill="none"/>
<path d="M440.20 537.86H442.60M440.80 536.81L442.00 538.91M442.00 536.81L440.80 538.91" stroke="#444" stroke-width="0.7"/>
<path d="M443.90 537.86H446.30M444.50 536.81L445.70 538.91M445.70 536.81L444.50 538.91" stroke="#444" stroke-width="0.7"/>
<line x1="333.5" y1="360" x2="333.5" y2="548.6" stroke="#222" stroke-width="1"/>
<line x1="333" y1="545.1" x2="463.8" y2="545.1" stroke="#222" stroke-width="1.2"/>
<line x1="463.6" y1="542.4" x2="463.6" y2="548.0" stroke="#222" stroke-width="0.9"/>
<line x1="472.5" y1="545.1" x2="505" y2="545.1" stroke="#222" stroke-width="1.2"/>
<line x1="472.5" y1="542.6" x2="472.5" y2="547.6" stroke="#222" stroke-width="0.9"/>
<line x1="333.5" y1="545.1" x2="333.5" y2="548.2" stroke="#222" stroke-width="0.9"/>
<text x="333.50" y="557.90" font-size="7.2" text-anchor="middle" fill="#262626" >0.0</text>
<line x1="376.8" y1="545.1" x2="376.8" y2="548.2" stroke="#222" stroke-width="0.9"/>
<text x="376.80" y="557.90" font-size="7.2" text-anchor="middle" fill="#262626" >0.5</text>
<line x1="420" y1="545.1" x2="420" y2="548.2" stroke="#222" stroke-width="0.9"/>
<text x="420.00" y="557.90" font-size="7.2" text-anchor="middle" fill="#262626" >1.0</text>
<line x1="463.6" y1="545.1" x2="463.6" y2="548.2" stroke="#222" stroke-width="0.9"/>
<text x="463.60" y="557.90" font-size="7.2" text-anchor="middle" fill="#262626" >1.5</text>
<line x1="495" y1="545.1" x2="495" y2="548.2" stroke="#222" stroke-width="0.9"/>
<text x="495.00" y="557.90" font-size="7.2" text-anchor="middle" fill="#262626" >6</text>
<text x="420.60" y="572.60" font-size="8.7" text-anchor="middle" fill="#262626" >Relative IODs</text>
<text x="420.30" y="584.40" font-size="9.0" text-anchor="middle" fill="#262626" >(fold change vs control)</text>
<rect x="0" y="0" width="1" height="668" fill="#0a0a0a"/>
<rect x="1" y="0" width="1" height="668" fill="#9a9a9a"/>
<rect x="0" y="0" width="520" height="1" fill="#4a4a4a"/>
<rect x="0" y="1" width="520" height="1" fill="#b0b0b0"/>
<rect x="518" y="0" width="2" height="668" fill="#4e4e4e"/>
<rect x="0" y="666" width="520" height="2" fill="#4e4e4e"/>
</svg>
</body></html>
